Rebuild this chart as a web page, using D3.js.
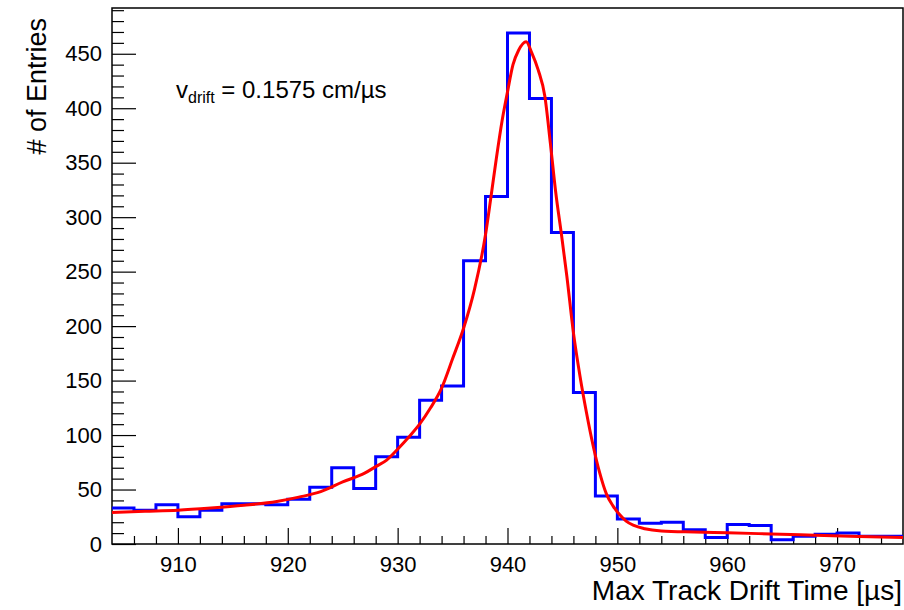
<!DOCTYPE html>
<html>
<head>
<meta charset="utf-8">
<script src="https://cdn.jsdelivr.net/npm/d3@7"></script>
<style>
  html, body { margin: 0; padding: 0; background: #fff; }
  svg { display: block; font-family: "Liberation Sans", Arial, Helvetica, sans-serif; }
</style>
</head>
<body>
<svg id="chart" width="904" height="610"></svg>
<script>
// ---- data ----
const binEdgeStart = 904;
const binWidth = 2;
const counts = [33, 31, 36, 25, 31, 37, 37, 36, 41, 52, 70, 51, 80, 98, 132, 145, 260, 319,
                469, 409, 286, 139, 44, 23, 19, 20, 13, 6, 18, 17, 4, 7, 9, 10, 7, 7];
const fitX = [904, 907, 910, 913, 916, 919, 921, 923, 925, 927, 928, 929, 930, 931, 932, 933, 934,
              935, 936, 937, 938, 938.5, 939, 939.5, 940, 940.5, 941, 941.7, 942.2, 942.8, 943.4,
              943.9, 944.4, 944.9, 945.4, 946, 946.6, 947.2, 947.8, 948.4, 949, 949.6, 950.2, 950.8,
              951.5, 952.5, 954, 957, 960, 964, 968, 972, 976];
const fitY = [29, 30, 31, 33, 35.5, 39, 43, 48, 57, 65, 71, 77, 87, 98, 110, 125, 143,
              170, 198, 234, 284, 319, 355, 388, 415, 440, 453, 461, 451, 435, 411,
              368, 322, 285, 246, 194, 154, 120, 90, 65, 46, 35, 27, 21,
              17, 14, 12, 11, 10.3, 9.2, 8, 6.8, 6];
const xMajorTicks = [910, 920, 930, 940, 950, 960, 970];
const yMajorTicks = [0, 50, 100, 150, 200, 250, 300, 350, 400, 450];
const xTitle = "Max Track Drift Time [µs]";
const yTitle = "# of Entries";

// ---- layout ----
const svg = d3.select("#chart");
const L = 112, R = 903, T = 8, B = 544;
const x = d3.scaleLinear().domain([904, 976]).range([L, R]);
const y = d3.scaleLinear().domain([0, 492]).range([B, T]);

const xMinor = d3.range(906, 976, 2).filter(v => !xMajorTicks.includes(v));
const yMinor = d3.range(10, 492, 10).filter(v => !yMajorTicks.includes(v));

// frame
svg.append("rect").attr("x", L).attr("y", T).attr("width", R - L).attr("height", B - T)
  .attr("fill", "none").attr("stroke", "#000").attr("stroke-width", 1.5);

// x axis
const gx = svg.append("g").attr("transform", `translate(0,${B})`);
gx.call(d3.axisBottom(x).tickValues(xMajorTicks).tickSize(-16).tickPadding(12).tickFormat(d3.format("d")));
gx.append("g").call(d3.axisBottom(x).tickValues(xMinor).tickSize(-8).tickFormat(""));
gx.selectAll(".domain").remove();
gx.selectAll("line").attr("stroke", "#000").attr("stroke-width", 1.2);
gx.selectAll("text").attr("font-size", 22).attr("font-family", "Liberation Sans, Arial, sans-serif")
  .attr("fill", "#000").attr("dy", "0.71em");

// y axis
const gy = svg.append("g").attr("transform", `translate(${L},0)`);
gy.call(d3.axisLeft(y).tickValues(yMajorTicks).tickSize(-24).tickPadding(10).tickFormat(d3.format("d")));
gy.append("g").call(d3.axisLeft(y).tickValues(yMinor).tickSize(-12).tickFormat(""));
gy.selectAll(".domain").remove();
gy.selectAll("line").attr("stroke", "#000").attr("stroke-width", 1.2);
gy.selectAll("text").attr("font-size", 22).attr("font-family", "Liberation Sans, Arial, sans-serif")
  .attr("fill", "#000");

// histogram step outline
const pts = [];
counts.forEach((c, i) => {
  const x0 = binEdgeStart + i * binWidth;
  pts.push([x0, c], [x0 + binWidth, c]);
});
const line = d3.line().x(d => x(d[0])).y(d => y(d[1]));
svg.append("path").datum(pts).attr("d", line)
  .attr("fill", "none").attr("stroke", "#0000ff").attr("stroke-width", 3)
  .attr("stroke-linejoin", "miter");

// fit curve
const fitPts = fitX.map((v, i) => [v, fitY[i]]);
svg.append("path").datum(fitPts)
  .attr("d", d3.line().x(d => x(d[0])).y(d => y(d[1])).curve(d3.curveMonotoneX))
  .attr("fill", "none").attr("stroke", "#ff0000").attr("stroke-width", 3);

// annotation
const ann = svg.append("text").attr("x", 176).attr("y", 98)
  .attr("font-size", 24).attr("fill", "#000");
ann.append("tspan").text("v");
ann.append("tspan").attr("font-size", 16).attr("dy", 5).text("drift");
ann.append("tspan").attr("dy", -5).text(" = 0.1575 cm/µs");

// axis titles
svg.append("text").attr("x", 902).attr("y", 600).attr("text-anchor", "end")
  .attr("font-size", 28).attr("fill", "#000").text(xTitle);
svg.append("text").attr("transform", "translate(46,18) rotate(-90)").attr("text-anchor", "end")
  .attr("font-size", 27).attr("fill", "#000").text(yTitle);
</script>
</body>
</html>
